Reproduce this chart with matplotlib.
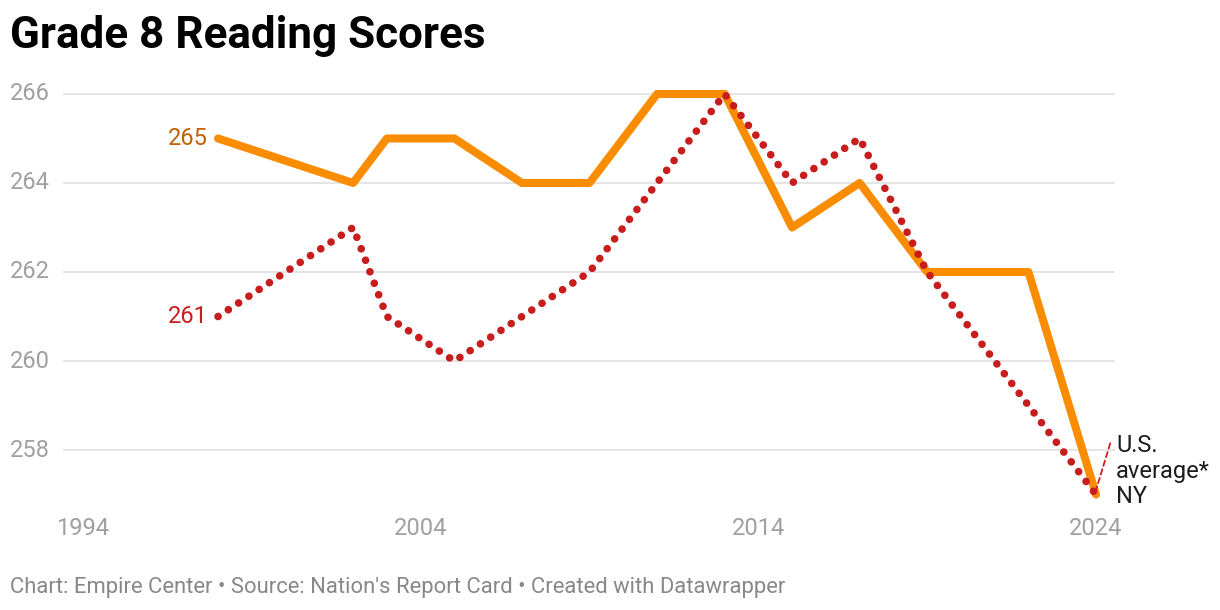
import matplotlib
matplotlib.use("Agg")
import matplotlib.pyplot as plt

plt.rcParams['font.family'] = ['Roboto', 'DejaVu Sans']

years = [1998, 2002, 2003, 2005, 2007, 2009, 2011, 2013, 2015, 2017, 2019, 2022, 2024]
ny = [265, 264, 265, 265, 264, 264, 266, 266, 263, 264, 262, 262, 257]
us = [261, 263, 261, 260, 261, 262, 264, 266, 264, 265, 262, 259, 257]
xticks = [1994, 2004, 2014, 2024]
yticks = [258, 260, 262, 264, 266]

ORANGE = '#fa8c00'
RED = '#c71e1d'
GRID = '#e3e3e3'
TICK = '#a0a0a0'

W, H = 1220, 610
fig = plt.figure(figsize=(W / 100, H / 100), dpi=100)

left_px, right_px = 63, 1115
top_px, bot_px = 89.5, 499
ax = fig.add_axes([left_px / W, (H - bot_px) / H, (right_px - left_px) / W, (bot_px - top_px) / H])
ax.set_xlim(1994 - 20 / 33.8, 2024 + 19 / 33.8)
ax.set_ylim(256.9, 266.1)

for s in ax.spines.values():
    s.set_visible(False)
ax.set_yticks(yticks)
ax.set_xticks(xticks)
ax.grid(axis='y', color=GRID, lw=1.3, zorder=0)
ax.tick_params(length=0, labelsize=17, labelcolor=TICK)
ax.set_yticklabels([])
ax.set_xticklabels([str(x) for x in xticks])
ax.tick_params(axis='x', pad=13)

# y tick labels at left edge of figure
for v in yticks:
    ax.annotate(str(v), xy=(0, v), xycoords=('figure fraction', 'data'),
                xytext=(10, 0), textcoords='offset pixels',
                ha='left', va='center', fontsize=17, color=TICK)

ax.plot(years, ny, color=ORANGE, lw=5.8, solid_joinstyle='round',
        solid_capstyle='round', zorder=3)
ax.plot(years, us, color=RED, lw=5.5, linestyle=(0, (0.01, 1.6)),
        dash_capstyle='round', zorder=4)

# start labels
ax.annotate(str(ny[0]), xy=(years[0], ny[0]), xytext=(-10, 0), textcoords='offset pixels',
            ha='right', va='center', fontsize=17, color='#c26100')
ax.annotate(str(us[0]), xy=(years[0], us[0]), xytext=(-10, 0), textcoords='offset pixels',
            ha='right', va='center', fontsize=17, color=RED)

# end labels
ax.annotate('', xy=(years[-1] - 0.02, us[-1] + 0.05), xytext=(years[-1] + 0.42, us[-1] + 1.15),
            arrowprops=dict(arrowstyle='-', color=RED, lw=1.3, linestyle=(0, (3, 2)),
                            shrinkA=0, shrinkB=0))
ax.annotate('U.S.\naverage*', xy=(years[-1], us[-1]), xytext=(20, 17), textcoords='offset pixels',
            ha='left', va='baseline', fontsize=17, color='#1d1d1d', linespacing=1.12)
ax.annotate('NY', xy=(years[-1], ny[-1]), xytext=(20, -8), textcoords='offset pixels',
            ha='left', va='baseline', fontsize=17, color='#1d1d1d')

fig.text(10 / W, 1 - 36 / H, 'Grade 8 Reading Scores', fontsize=31.7, fontweight='bold',
         ha='left', va='center', color='#000000')
fig.text(10 / W, 1 - 587 / H,
         "Chart: Empire Center \u2022 Source: Nation's Report Card \u2022 Created with Datawrapper",
         fontsize=15.8, ha='left', va='center', color='#888888')

fig.savefig('out.png', dpi=100)
